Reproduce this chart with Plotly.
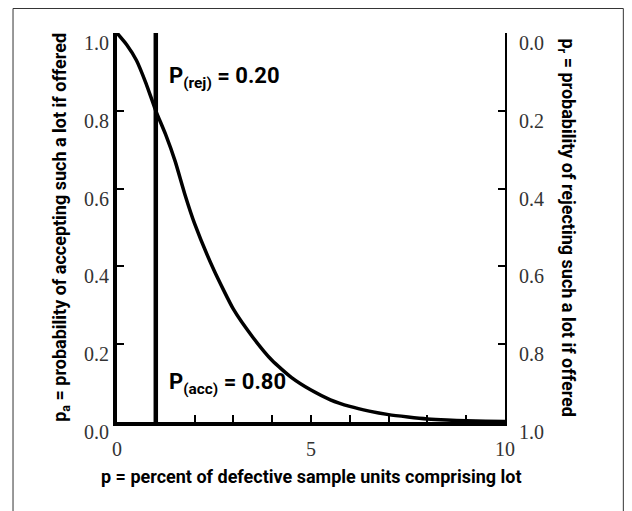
import plotly.graph_objects as go

# Data (OC curve)
p_pct = [0, 0.25, 0.5, 0.75, 1.0, 1.25, 1.5, 1.75, 2.0, 2.5, 3.0, 3.5, 4.0, 4.5, 5.0,
         5.5, 6.0, 6.5, 7.0, 7.5, 8.0, 8.5, 9.0, 9.5, 10.0]
p_accept = [1.0, 0.97, 0.93, 0.87, 0.80, 0.74, 0.67, 0.585, 0.51, 0.39, 0.29, 0.218,
            0.158, 0.114, 0.082, 0.057, 0.040, 0.028, 0.019, 0.013, 0.008, 0.005,
            0.003, 0.002, 0.001]
aql_p = 1.0
x_tickvals = [0, 1, 2, 3, 4, 5, 6, 7, 8, 9, 10]
x_ticktext = ["0", "", "", "", "", "5", "", "", "", "", "10"]
y_tickvals = [0.0, 0.2, 0.4, 0.6, 0.8, 1.0]
y_ticktext = ["0.0", "0.2", "0.4", "0.6", "0.8", "1.0"]
y2_tickvals = [0.0, 0.2, 0.4, 0.6, 0.8, 1.0]
y2_ticktext = ["0.0", "0.2", "0.4", "0.6", "0.8", "1.0"]

TICKFONT = dict(family="Liberation Serif, serif", size=20, color="#333")
TITLEFONT = dict(family="Roboto", size=18, color="black", weight=700)
ANNFONT = dict(family="Roboto", size=22, color="black", weight=700)

fig = go.Figure()
fig.add_trace(go.Scatter(x=p_pct, y=p_accept, mode="lines",
                         line=dict(color="black", width=3.5, shape="spline", smoothing=0.5),
                         showlegend=False, hoverinfo="skip"))
fig.add_trace(go.Scatter(x=[aql_p, aql_p], y=[0, 1.0], mode="lines",
                         line=dict(color="black", width=4.5),
                         showlegend=False, hoverinfo="skip"))
# invisible trace to activate the right axis
fig.add_trace(go.Scatter(x=[0], y=[0], yaxis="y2", mode="markers",
                         marker=dict(opacity=0), showlegend=False, hoverinfo="skip"))

# page body has an 8px margin, so margins are reduced by 8px on left/top
fig.update_layout(
    width=632, height=511,
    margin=dict(l=109, r=135, t=25, b=97),
    paper_bgcolor="white", plot_bgcolor="white",
    xaxis=dict(range=[0, 10], tickvals=x_tickvals, ticktext=x_ticktext,
               ticks="inside", ticklen=7, tickwidth=1.5, tickcolor="black",
               showline=True, linewidth=4, linecolor="black", showgrid=False,
               zeroline=False, tickfont=TICKFONT, ticklabelstandoff=6),
    yaxis=dict(range=[0, 1.0], tickvals=y_tickvals, showticklabels=False,
               ticks="inside", ticklen=7, tickwidth=1.5, tickcolor="black",
               showline=True, linewidth=4, linecolor="black", showgrid=False,
               zeroline=False),
    yaxis2=dict(range=[1.0, 0], tickvals=y2_tickvals, showticklabels=False,
                overlaying="y", side="right", anchor="x",
                ticks="inside", ticklen=7, tickwidth=1.5, tickcolor="black",
                showline=True, linewidth=2, linecolor="black", showgrid=False,
                zeroline=False),
)

# y tick labels (drawn slightly below their ticks, as in the reference)
for v, t in zip(y_tickvals, y_ticktext):
    fig.add_annotation(x=0, y=v, xref="paper", yref="y", text=t, showarrow=False,
                       xanchor="right", yanchor="middle", xshift=-6, yshift=-10,
                       font=TICKFONT)
for v, t in zip(y2_tickvals, y2_ticktext):
    fig.add_annotation(x=1, y=v, xref="paper", yref="y2", text=t, showarrow=False,
                       xanchor="left", yanchor="middle", xshift=12, yshift=-10,
                       font=TICKFONT)

fig.add_annotation(x=1.3, y=0.885, xref="x", yref="y", xanchor="left", yanchor="middle",
                   text="P<sub>(rej)</sub> = 0.20", showarrow=False, font=ANNFONT)
fig.add_annotation(x=1.3, y=0.10, xref="x", yref="y", xanchor="left", yanchor="middle",
                   text="P<sub>(acc)</sub> = 0.80", showarrow=False, font=ANNFONT)

# axis titles
fig.add_annotation(x=-0.146, y=0.5, xref="paper", yref="paper", textangle=-90,
                   text="p<sub>a</sub> = probability of accepting such a lot if offered",
                   showarrow=False, font=TITLEFONT, xanchor="center", yanchor="middle")
fig.add_annotation(x=1.16, y=0.5, xref="paper", yref="paper", textangle=90,
                   text="p<sub>r</sub> = probability of rejecting such a lot if offered",
                   showarrow=False, font=TITLEFONT, xanchor="center", yanchor="middle")
fig.add_annotation(x=0.5, y=-0.14, xref="paper", yref="paper",
                   text="p = percent of defective sample units comprising lot",
                   showarrow=False, font=TITLEFONT, xanchor="center", yanchor="middle")

# outer frame
fig.add_shape(type="rect", xref="paper", yref="paper",
              x0=-0.268, x1=1.305, y0=-0.25, y1=1.063,
              line=dict(color="#333", width=1), fillcolor="rgba(0,0,0,0)", layer="below")

fig.write_html("out.html")
